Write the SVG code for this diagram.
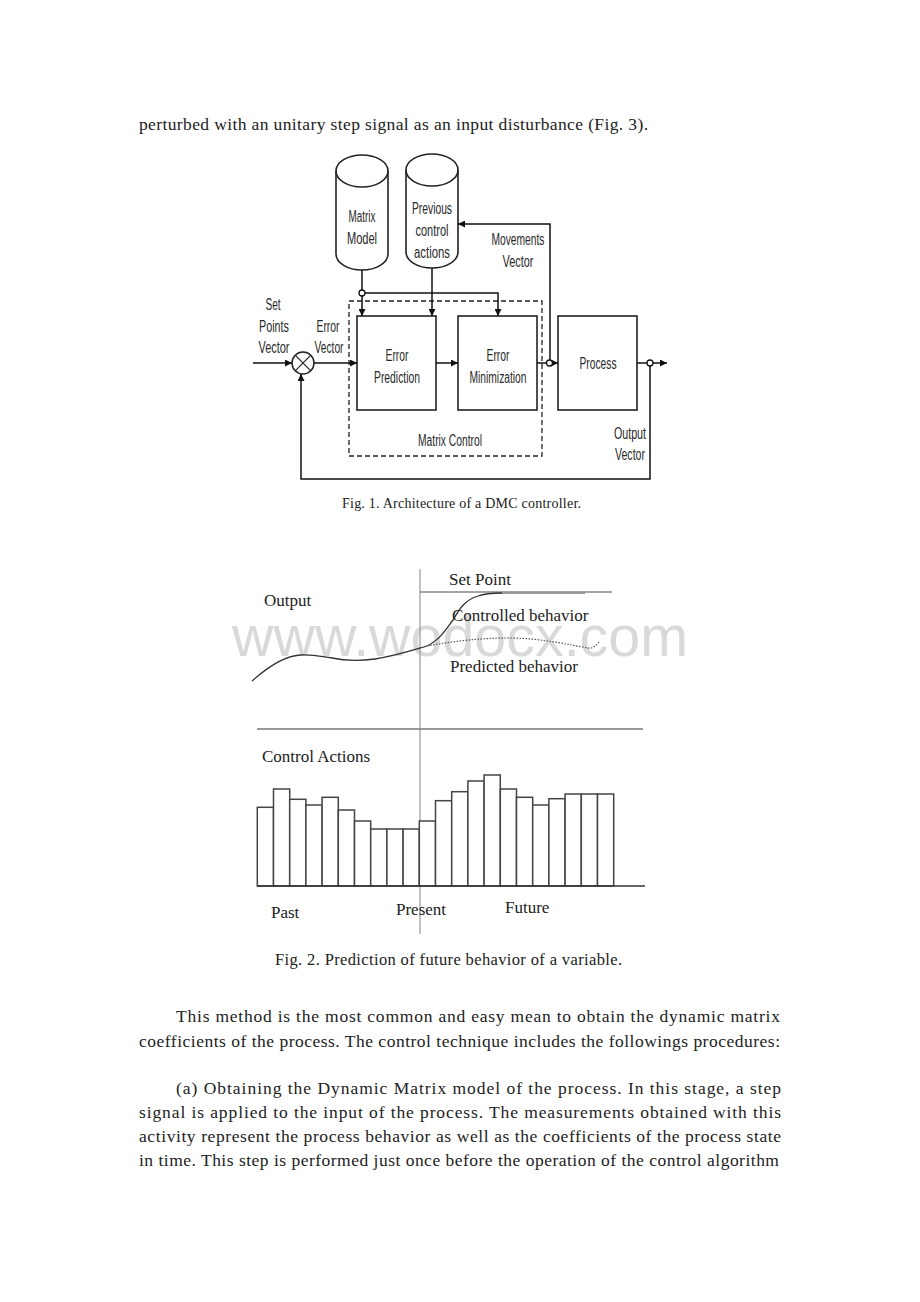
<svg xmlns="http://www.w3.org/2000/svg" width="920" height="1302" viewBox="0 0 920 1302">
<style>
.body{font-family:"Liberation Serif","Times New Roman",serif;font-size:17.5px;fill:#222}
.n{font-family:"Liberation Sans","Arial",sans-serif;font-size:16px;fill:#2a2a2a;text-anchor:middle}
.box{fill:#fff;stroke:#222;stroke-width:1.6}
.ln{fill:none;stroke:#111;stroke-width:1.5}
.t2{font-family:"Liberation Serif","Times New Roman",serif;font-size:17px;fill:#222}
.bar{fill:#fff;stroke:#444;stroke-width:1.5}
.cap{font-family:"Liberation Serif","Times New Roman",serif;fill:#222}
</style>
<defs>
<marker id="ah" viewBox="0 0 10 10" refX="10" refY="5" markerWidth="7" markerHeight="7" orient="auto" markerUnits="userSpaceOnUse">
<path d="M0,0 L10,5 L0,10 z" fill="#111"/>
</marker>
</defs>
<rect width="920" height="1302" fill="#fff"/>

<text class="body" x="139" y="130" textLength="509" lengthAdjust="spacing">perturbed with an unitary step signal as an input disturbance (Fig. 3).</text>

<!-- Fig 1 -->
<g id="matrix-control">
<rect x="349" y="301" width="193" height="155" fill="none" stroke="#222" stroke-width="1.3" stroke-dasharray="5,3"/>
<text class="n" x="450" y="446" textLength="64" lengthAdjust="spacingAndGlyphs">Matrix Control</text>
</g>
<g id="matrix-model">
<path class="box" d="M336,171 A26,16 0 0 1 388,171 L388,254 A26,16 0 0 1 336,254 Z"/>
<path d="M336,171 A26,16 0 0 0 388,171" fill="none" stroke="#222" stroke-width="1.6"/>
<text class="n" x="362" y="222" textLength="27" lengthAdjust="spacingAndGlyphs">Matrix</text>
<text class="n" x="362" y="244" textLength="30" lengthAdjust="spacingAndGlyphs">Model</text>
</g>
<g id="previous-actions">
<path class="box" d="M406,170 A26,16 0 0 1 458,170 L458,252 A26,16 0 0 1 406,252 Z"/>
<path d="M406,170 A26,16 0 0 0 458,170" fill="none" stroke="#222" stroke-width="1.6"/>
<text class="n" x="432" y="214" textLength="40" lengthAdjust="spacingAndGlyphs">Previous</text>
<text class="n" x="432" y="236" textLength="33" lengthAdjust="spacingAndGlyphs">control</text>
<text class="n" x="432" y="258" textLength="36" lengthAdjust="spacingAndGlyphs">actions</text>
</g>
<g id="error-prediction">
<rect class="box" x="357" y="316" width="79" height="94"/>
<text class="n" x="397" y="361" textLength="23" lengthAdjust="spacingAndGlyphs">Error</text>
<text class="n" x="397" y="383" textLength="46" lengthAdjust="spacingAndGlyphs">Prediction</text>
</g>
<g id="error-minimization">
<rect class="box" x="458" y="316" width="79" height="94"/>
<text class="n" x="498" y="361" textLength="23" lengthAdjust="spacingAndGlyphs">Error</text>
<text class="n" x="498" y="383" textLength="57" lengthAdjust="spacingAndGlyphs">Minimization</text>
</g>
<g id="process">
<rect class="box" x="558" y="316" width="79" height="94"/>
<text class="n" x="598" y="369" textLength="37" lengthAdjust="spacingAndGlyphs">Process</text>
</g>
<g id="sum-junction">
<circle cx="303" cy="363" r="11" fill="#fff" stroke="#222" stroke-width="1.5"/>
<path d="M295.2,355.2 L310.8,370.8 M310.8,355.2 L295.2,370.8" stroke="#222" stroke-width="1.2"/>
</g>
<g id="connectors">
<path class="ln" d="M253,363 L292,363" marker-end="url(#ah)"/>
<path class="ln" d="M314,363 L357,363" marker-end="url(#ah)"/>
<path class="ln" d="M436,363 L458,363" marker-end="url(#ah)"/>
<path class="ln" d="M537,363 L546,363"/>
<path class="ln" d="M553,363 L558,363" marker-end="url(#ah)"/>
<path class="ln" d="M637,363 L647,363"/>
<path class="ln" d="M653,363 L667,363" marker-end="url(#ah)"/>
<path class="ln" d="M650,366 L650,479 L301,479 L301,374" marker-end="url(#ah)"/>
<path class="ln" d="M550,360 L550,224 L458,224" marker-end="url(#ah)"/>
<path class="ln" d="M362,270 L362,290"/>
<path class="ln" d="M362,296 L362,316" marker-end="url(#ah)"/>
<path class="ln" d="M365,293 L498,293 L498,316" marker-end="url(#ah)"/>
<path class="ln" d="M432,268 L432,316" marker-end="url(#ah)"/>
<circle cx="362" cy="293" r="3" fill="#fff" stroke="#111" stroke-width="1.3"/>
<circle cx="549.5" cy="363" r="3" fill="#fff" stroke="#111" stroke-width="1.3"/>
<circle cx="650" cy="363" r="3" fill="#fff" stroke="#111" stroke-width="1.3"/>
</g>
<g id="labels">
<text class="n" x="273" y="310" textLength="15" lengthAdjust="spacingAndGlyphs">Set</text>
<text class="n" x="274" y="332" textLength="30" lengthAdjust="spacingAndGlyphs">Points</text>
<text class="n" x="274" y="353" textLength="31" lengthAdjust="spacingAndGlyphs">Vector</text>
<text class="n" x="328" y="332" textLength="23" lengthAdjust="spacingAndGlyphs">Error</text>
<text class="n" x="329" y="353" textLength="29" lengthAdjust="spacingAndGlyphs">Vector</text>
<text class="n" x="518" y="245" textLength="53" lengthAdjust="spacingAndGlyphs">Movements</text>
<text class="n" x="518" y="267" textLength="31" lengthAdjust="spacingAndGlyphs">Vector</text>
<text class="n" x="630" y="439" textLength="32" lengthAdjust="spacingAndGlyphs">Output</text>
<text class="n" x="630" y="460" textLength="30" lengthAdjust="spacingAndGlyphs">Vector</text>
</g>
<text class="cap" x="342" y="508" font-size="14" textLength="239" lengthAdjust="spacing">Fig. 1. Architecture of a DMC controller.</text>

<!-- Fig 2 -->
<text x="460" y="656" font-family="Liberation Sans,Arial,sans-serif" font-size="57" fill="#d9d9d9" text-anchor="middle" textLength="456" lengthAdjust="spacingAndGlyphs">www.wodocx.com</text>
<line x1="420" y1="569" x2="420" y2="934" stroke="#999" stroke-width="1.2"/>
<line x1="420" y1="592" x2="612" y2="592" stroke="#888" stroke-width="1.3"/>
<path d="M500,593 L585,593" stroke="#999" stroke-width="2.2" fill="none"/>
<path d="M252,681 C270,665 285,656 300,655 C315,654 322,657 332,658 C345,661 360,661 375,659 C395,656 410,651 427,646" fill="none" stroke="#333" stroke-width="1.3"/>
<path d="M427,646 C440,640 447,628 453,620 C460,608 465,600 478,596 C486,593 493,593 502,593" fill="none" stroke="#333" stroke-width="1.3"/>
<path d="M427,646 C455,641 480,638 510,638 C540,638 570,645 588,648 C592,649 596,646 599,642" fill="none" stroke="#555" stroke-width="1.2" stroke-dasharray="1.5,1.5"/>
<text class="t2" x="449" y="585">Set Point</text>
<text class="t2" x="264" y="606">Output</text>
<text class="t2" x="452" y="621">Controlled behavior</text>
<text class="t2" x="450" y="672">Predicted behavior</text>
<line x1="257" y1="729" x2="643" y2="729" stroke="#777" stroke-width="1.5"/>
<text class="t2" x="262" y="762">Control Actions</text>
<g>
<rect class="bar" x="257.3" y="807.3" width="16.2" height="78.7"/>
<rect class="bar" x="273.5" y="789" width="16.2" height="97"/>
<rect class="bar" x="289.7" y="799.3" width="16.2" height="86.7"/>
<rect class="bar" x="305.9" y="805" width="16.2" height="81"/>
<rect class="bar" x="322.1" y="797.3" width="16.2" height="88.7"/>
<rect class="bar" x="338.3" y="810" width="16.2" height="76"/>
<rect class="bar" x="354.5" y="821" width="16.2" height="65"/>
<rect class="bar" x="370.7" y="829" width="16.2" height="57"/>
<rect class="bar" x="386.9" y="829" width="16.2" height="57"/>
<rect class="bar" x="403.1" y="829" width="16.2" height="57"/>
<rect class="bar" x="419.3" y="821" width="16.2" height="65"/>
<rect class="bar" x="435.5" y="800.7" width="16.2" height="85.3"/>
<rect class="bar" x="451.7" y="791.7" width="16.2" height="94.3"/>
<rect class="bar" x="467.9" y="781" width="16.2" height="105"/>
<rect class="bar" x="484.1" y="775" width="16.2" height="111"/>
<rect class="bar" x="500.3" y="789" width="16.2" height="97"/>
<rect class="bar" x="516.5" y="797.3" width="16.2" height="88.7"/>
<rect class="bar" x="532.7" y="805" width="16.2" height="81"/>
<rect class="bar" x="548.9" y="798.7" width="16.2" height="87.3"/>
<rect class="bar" x="565.1" y="794" width="16.2" height="92"/>
<rect class="bar" x="581.3" y="794" width="16.2" height="92"/>
<rect class="bar" x="597.5" y="794" width="16.2" height="92"/>
</g>
<line x1="257" y1="886" x2="645" y2="886" stroke="#333" stroke-width="1.5"/>
<text class="t2" x="271" y="918">Past</text>
<text class="t2" x="396" y="915">Present</text>
<text class="t2" x="505" y="913">Future</text>
<text class="cap" x="275" y="965" font-size="16.5" textLength="347" lengthAdjust="spacing">Fig. 2. Prediction of future behavior of a variable.</text>

<!-- body text -->
<text class="body" x="176" y="1022" textLength="604" lengthAdjust="spacing">This method is the most common and easy mean to obtain the dynamic  matrix</text>
<text class="body" x="139" y="1047" textLength="641" lengthAdjust="spacing">coefficients of the process. The control technique includes the followings  procedures:</text>
<text class="body" x="176" y="1094" textLength="605" lengthAdjust="spacing">(a)  Obtaining the Dynamic Matrix model of the process. In this   stage,   a step</text>
<text class="body" x="139" y="1118" textLength="642" lengthAdjust="spacing">signal is applied to the input of the process. The measurements obtained with this</text>
<text class="body" x="139" y="1142" textLength="642" lengthAdjust="spacing">activity represent the process behavior as well as the coefficients of the process state</text>
<text class="body" x="139" y="1166" textLength="640" lengthAdjust="spacing">in time. This step is performed just once before the operation of the control    algorithm</text>
</svg>
